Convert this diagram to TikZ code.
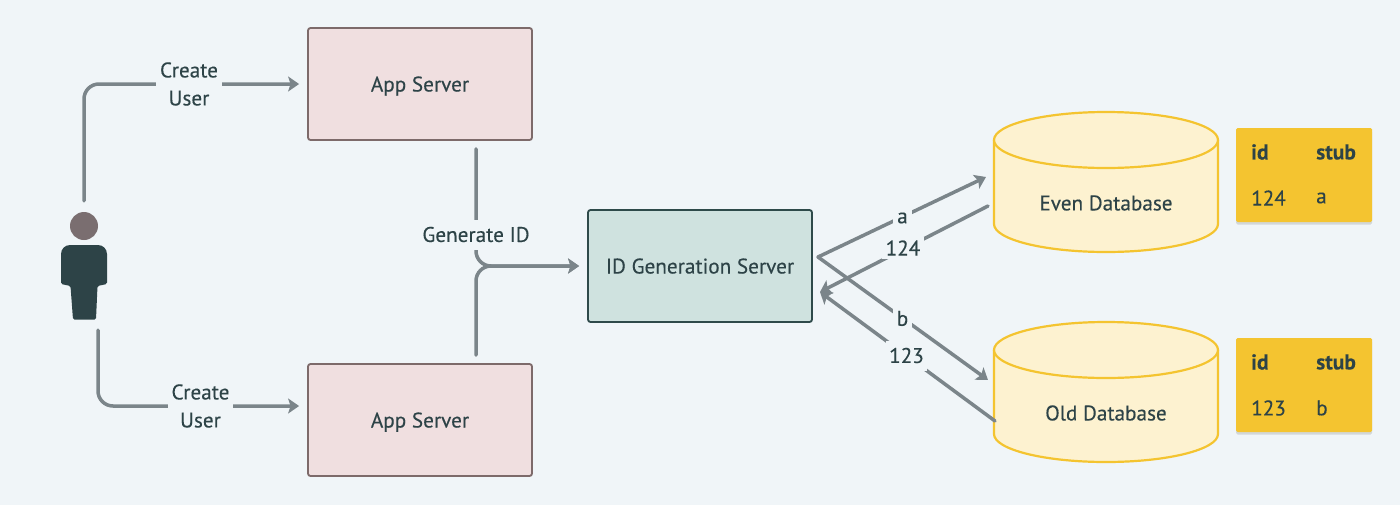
\documentclass[tikz,border=0pt]{standalone}
\usepackage{fontspec}
\setmainfont{PT Sans}
\newfontfamily\regfont[FakeBold=0.22]{PT Sans}
\newfontfamily\strongfont[FakeBold=0.12]{PT Sans Bold}
\usetikzlibrary{arrows.meta,shadows}
\definecolor{bgc}{HTML}{F0F5F8}
\definecolor{appf}{HTML}{F0DFE0}
\definecolor{appd}{HTML}{7D6A6A}
\definecolor{idf}{HTML}{CFE2DF}
\definecolor{idd}{HTML}{2E4A4A}
\definecolor{dbf}{HTML}{FDF2D0}
\definecolor{dbd}{HTML}{F4C430}
\definecolor{txt}{HTML}{2D4347}
\definecolor{conc}{HTML}{7B858A}
\definecolor{headc}{HTML}{7A6E70}
\tikzset{
  x=1pt,y=-1pt,
  every node/.style={font=\regfont\fontsize{21.2}{28}\selectfont,text=txt},
  box/.style={draw,line width=1.8pt,rounded corners=2.5pt,minimum width=224pt,minimum height=112pt,inner sep=0pt,text height=15pt,text depth=0pt},
  appbox/.style={box,draw=appd,fill=appf},
  idbox/.style={box,draw=idd,fill=idf},
  db/.style={minimum width=224pt,minimum height=140pt,inner sep=0pt,outer sep=0pt},
  dbline/.style={draw=dbd,fill=dbf,line width=2.2pt},
  tbl/.style={fill=dbd,rounded corners=1.5pt,minimum width=136pt,minimum height=94pt,inner sep=0pt,
    drop shadow={shadow xshift=0pt,shadow yshift=-2.5pt,opacity=.12,fill=black}},
  cell/.style={anchor=west,inner sep=0pt},
  headcell/.style={cell,font=\strongfont\fontsize{21.5}{24}\selectfont},
  conn/.style={draw=conc,line width=3.5pt,line cap=round,-{Stealth[length=11pt,width=15pt,inset=2.5pt]}},
  lbl/.style={fill=bgc,align=center,inner sep=0pt}
}
\begin{document}
\begin{tikzpicture}
\useasboundingbox (0,0) rectangle (1400,504);
\fill[bgc] (-5,-5) rectangle (1405,509);

\node[appbox] (app1) at (420,84) {App Server};
\node[appbox] (app2) at (420,420) {App Server};
\node[idbox] (idgen) at (700,266) {ID Generation Server};

% database outlines are drawn first, named nodes sit on top
\foreach \cy in {182,392}{
  \draw[dbline] (994,\cy-42) -- (994,\cy+42)
    arc[start angle=180,end angle=360,x radius=112pt,y radius=28pt]
    -- (1218,\cy-42)
    arc[start angle=0,end angle=180,x radius=112pt,y radius=28pt] -- cycle;
  \draw[dbline] (994,\cy-42)
    arc[start angle=180,end angle=360,x radius=112pt,y radius=28pt];
}
\node[db] (even) at (1106,182) {};
\node[db] (odd) at (1106,392) {};
\node (evenT) at (1106,203) {Even Database};
\node (oddT) at (1106,413) {Old Database};

\node[tbl] (t1) at (1304,175) {};
\node[headcell] (t1a) at (1251,152) {id};
\node[headcell] (t1b) at (1316,152) {stub};
\node[cell] (t1c) at (1251,198) {124};
\node[cell] (t1d) at (1316,198) {a};
\node[tbl] (t2) at (1304,385) {};
\node[headcell] (t2a) at (1251,362) {id};
\node[headcell] (t2b) at (1316,362) {stub};
\node[cell] (t2c) at (1251,408) {123};
\node[cell] (t2d) at (1316,408) {b};

% person
\node[minimum width=46pt,minimum height=108pt,inner sep=0pt] (person) at (84,266) {};
\fill[headc] (84,226) circle[radius=14pt];
\fill[txt,rounded corners=1.5pt] (61,284) [rounded corners=9pt] -- (61,245) -- (107,245) [rounded corners=1.5pt] -- (107,284) -- (97.5,286) -- (96,319.5) -- (73,319.5) -- (70.5,286) -- cycle;

% connector end points
\coordinate (idOut) at (818,257);
\coordinate (idIn) at (820,292);
\coordinate (evenIn) at (986,177);
\coordinate (evenOut) at (988,206);
\coordinate (oddIn) at (988,380);
\coordinate (oddOut) at (995,421);

\draw[conn,rounded corners=15pt,shorten <=11pt,shorten >=8pt] (person.north) |- (app1.west);
\draw[conn,rounded corners=15pt,shorten <=10pt,shorten >=8pt] ([xshift=14pt]person.south) |- ([yshift=14pt]app2.west);
\draw[conn,rounded corners=15pt,shorten <=8pt,shorten >=8pt] ([xshift=56pt]app1.south) |- (idgen.west);
\draw[conn,rounded corners=15pt,shorten <=8pt,shorten >=8pt] ([xshift=56pt]app2.north) |- (idgen.west);
\draw[conn] (idOut) -- (evenIn);
\draw[conn] (idOut) -- (oddIn);
\draw[conn] (evenOut) -- (idIn);
\draw[conn] (oddOut) -- (idIn);

\node[lbl,minimum width=66pt,minimum height=60pt] (cu1) at (189,84) {Create\\User};
\node[lbl,minimum width=65pt,minimum height=60pt] (cu2) at (200.5,406) {Create\\User};
\node[lbl,minimum width=108pt,minimum height=30pt] (gen) at (476,234.5) {Generate ID};
\node[lbl,minimum width=19pt,minimum height=20pt] (la) at (902.5,218) {a};
\node[lbl,minimum width=42pt,minimum height=22pt] (l124) at (903,248) {124};
\node[lbl,minimum width=19pt,minimum height=20pt] (lb) at (902.5,318.5) {b};
\node[lbl,minimum width=41pt,minimum height=30pt] (l123) at (906.5,355.5) {123};
\end{tikzpicture}
\end{document}
